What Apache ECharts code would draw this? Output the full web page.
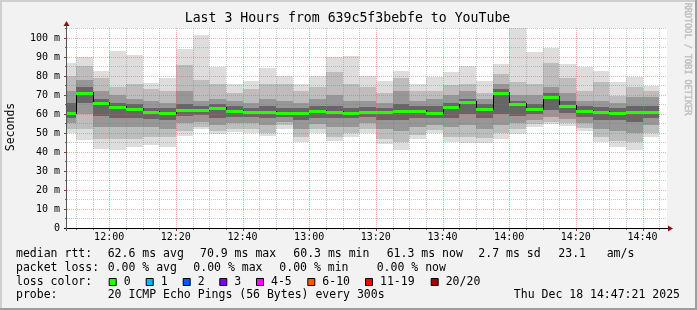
<!DOCTYPE html>
<html><head><meta charset="utf-8">
<script src="https://cdn.jsdelivr.net/npm/echarts@6/dist/echarts.min.js"></script>
<style>html,body{margin:0;padding:0;background:#f2f2f2}#c{width:697px;height:310px}</style>
</head><body><div id="c"></div>
<script>
// ---- data ----
const binStart = ['11:45','11:50','11:55','12:00','12:05','12:10','12:15','12:20','12:25','12:30','12:35','12:40',
  '12:45','12:50','12:55','13:00','13:05','13:10','13:15','13:20','13:25','13:30','13:35','13:40',
  '13:45','13:50','13:55','14:00','14:05','14:10','14:15','14:20','14:25','14:30','14:35','14:40'];
const minRtt = [50.0,46.5,41.7,41.2,42.6,43.9,42.4,48.2,52.0,49.6,50.3,50.0,48.5,52.0,45.1,50.0,45.6,47.9,
  50.2,44.2,40.8,47.0,50.0,45.2,44.5,44.8,47.0,49.5,53.0,54.5,53.6,50.9,45.1,42.4,41.2,47.9];
const low1 = [52,52,47,47,47,48,48,51,53,51,52,52,50,54,48,52,48,50,52,47,45,49,51.5,48,48,47.5,50,52,54.5,56,55,52.5,48,46,45,50];
const low2 = [55,60,53,53,53,53,52,55,56,54,55,55,54,56,52,54.5,53,53,55,52,51,53,54,53,54,52,54,55,57,58.5,57.5,55,52,51,50,54];
const low3 = [58,66,59,58,58,57.5,57,59,59.5,58,58.5,58.5,58,58.5,57,58,58,58,58.5,57,57,58,58,58,60,58,60,59,60,62,60.5,58.5,57,57,56,58];
const medianRtt = [60.7,70.9,65.6,63.8,62.8,61.0,60.5,62.1,62.1,62.9,61.7,60.9,61.2,60.7,60.3,61.7,61.2,60.5,
  61.0,61.0,61.7,61.5,60.7,63.8,66.1,62.6,70.8,65.3,62.4,68.9,64.4,61.4,61.0,60.5,60.9,61.3];
const high3 = [66,74,68,66,65.5,63,63,65,64,65,64,63,64,63,63,64,64,63,63.5,63,65,64,64,66,68,65,73,67,65,71,67,64,63.5,63,64,64];
const high2 = [72,78,72,70,68,67,66,72,67,68,67,66,68,67,66,68,70,67,67,66,72,67,68,70,72,68,76,70,70,74,71,67,67,66,69,69];
const high1 = [80,85,79,74,76,73,72,86,78,76,71,73,76,76,72,74,82,76,74,71,79,72,72,75,76,71,81,77,76,87,79,72,77,69.5,74,72];
const maxRtt = [87.0,90.2,82.4,93.0,91.2,76.3,79.0,94.4,101.7,84.5,75.8,77.2,84.2,80.2,75.8,80.2,90.0,90.3,
  79.8,77.2,82.8,75.8,79.3,81.9,85.1,77.5,86.5,106.0,92.4,94.7,86.3,84.5,82.4,76.6,79.5,74.5];
const xMajorTicks = ['12:00','12:20','12:40','13:00','13:20','13:40','14:00','14:20','14:40'];
const yMajorTicks = [0,10,20,30,40,50,60,70,80,90,100];
const yMinorTicks = [5,15,25,35,45,55,65,75,85,95,105];
const rangeStart = '11:47:21', rangeEnd = '14:47:21';
const yTop = 105.26;
const binMinutes = 5;

function toMin(s){ const p=s.split(':').map(Number); return p[0]*60+p[1]+(p[2]||0)/60; }
function fmtMin(v){ const h=Math.floor(v/60), m=Math.round(v-h*60); return (h<10?'0':'')+h+':'+(m<10?'0':'')+m; }

const xMin = toMin(rangeStart), xMax = toMin(rangeEnd);
const MONO = 'DejaVu Sans Mono';
const SMOKE = ['#dddddd','#bdbdbd','#979797','#666666'];
const MAJ = 'rgba(235,90,90,0.5)', MIN = 'rgba(120,120,120,0.4)';

const smokeData = binStart.map((s,i)=>[toMin(s), minRtt[i], low1[i], low2[i], low3[i], high3[i], high2[i], high1[i], maxRtt[i]]);
const medData = binStart.map((s,i)=>[toMin(s), medianRtt[i], i>0?medianRtt[i-1]:'-']);
const majorSet = new Set(xMajorTicks.map(toMin));
const gridData = [];
binStart.map(toMin).forEach(t=>{ if(t>xMin && !majorSet.has(t)) gridData.push([0,t]); });
const lastEdge = toMin(binStart[binStart.length-1])+binMinutes;
if (lastEdge < xMax && !majorSet.has(lastEdge)) gridData.push([0,lastEdge]);
xMajorTicks.forEach(s=>gridData.push([1,toMin(s)]));
yMinorTicks.forEach(v=>gridData.push([2,v]));
yMajorTicks.forEach(v=>{ if(v>0) gridData.push([3,v]); });
gridData.push([4,0]);

function smokeItem(params, api){
  const t = api.value(0), cs = params.coordSys;
  const bands = [[1,8],[2,7],[3,6],[4,5]];
  const children = [];
  bands.forEach((b,k)=>{
    const p0 = api.coord([t, api.value(b[1])]);
    const p1 = api.coord([t+binMinutes, api.value(b[0])]);
    const x0=Math.round(p0[0]), x1=Math.round(p1[0]), y0=Math.round(p0[1]), y1=Math.round(p1[1]);
    const r = echarts.graphic.clipRectByRect({x:x0,y:y0,width:x1-x0,height:y1-y0},{x:cs.x,y:cs.y,width:cs.width,height:cs.height});
    if (r) children.push({type:'rect', shape:r, style:{fill:SMOKE[k]}});
  });
  return {type:'group', children};
}
function medianItem(params, api){
  const t=api.value(0), m=api.value(1), pm=api.value(2), cs=params.coordSys;
  const a=api.coord([t,m]), b=api.coord([t+binMinutes,m]);
  const x0=Math.max(Math.round(a[0]), cs.x), x1=Math.round(b[0]), y=Math.round(a[1]);
  const ch=[];
  if (!isNaN(pm)) {
    const py=Math.round(api.coord([t,pm])[1]);
    ch.push({type:'line', shape:{x1:x0+0.5,y1:Math.min(py,y)-1,x2:x0+0.5,y2:Math.max(py,y)+1}, style:{stroke:'#000',lineWidth:1}});
  }
  ch.push({type:'rect', shape:{x:x0,y:y-1,width:x1-x0,height:3}, style:{fill:'#26ff00'}});
  return {type:'group', children:ch};
}
function gridItem(params, api){
  const k=api.value(0), v=api.value(1), cs=params.coordSys;
  const yb = cs.y+cs.height;
  if (k===0 || k===1){
    const x=Math.round(api.coord([v,0])[0])+0.5;
    return {type:'group', children:[
      {type:'line', shape:{x1:x,y1:cs.y,x2:x,y2:yb}, style:{stroke:k?MAJ:MIN,lineWidth:1,lineDash:[1,1]}},
      {type:'line', shape:{x1:x,y1:yb,x2:x,y2:yb+(k?3:2)}, style:{stroke:k?'#a03030':'#666',lineWidth:1}}
    ]};
  }
  if (k===2 || k===3){
    const y=Math.round(api.coord([xMin,v])[1])+0.5;
    return {type:'group', children:[
      {type:'line', shape:{x1:cs.x,y1:y,x2:cs.x+cs.width,y2:y}, style:{stroke:k===3?MAJ:MIN,lineWidth:1,lineDash:[1,1]}},
      {type:'line', shape:{x1:cs.x-(k===3?3:2),y1:y,x2:cs.x,y2:y}, style:{stroke:k===3?'#a03030':'#666',lineWidth:1}}
    ]};
  }
  const R=cs.x+cs.width;
  return {type:'group', children:[
    {type:'line', shape:{x1:cs.x-3,y1:yb+0.5,x2:R+2,y2:yb+0.5}, style:{stroke:'#000',lineWidth:1}},
    {type:'line', shape:{x1:cs.x-0.5,y1:cs.y-3,x2:cs.x-0.5,y2:yb+3}, style:{stroke:'#555',lineWidth:1}},
    {type:'polygon', shape:{points:[[R+1,yb-2.5],[R+6,yb+0.5],[R+1,yb+3.5]]}, style:{fill:'#901010'}},
    {type:'polygon', shape:{points:[[cs.x-3.5,cs.y-2],[cs.x-0.5,cs.y-7],[cs.x+2.5,cs.y-2]]}, style:{fill:'#901010'}}
  ]};
}

const legendText = [
  [16,254,'median rtt:'],[107.7,254,'62.6 ms avg'],[200,254,'70.9 ms max'],[293.3,254,'60.3 ms min'],
  [386.7,254,'61.3 ms now'],[478.3,254,'2.7 ms sd'],[558.3,254,'23.1'],[606.7,254,'am/s'],
  [16,268,'packet loss:'],[107.7,268,'0.00 % avg'],[193.3,268,'0.00 % max'],[279.3,268,'0.00 % min'],[376.7,268,'0.00 % now'],
  [16,282,'loss color:'],
  [16,295.5,'probe:'],[107.7,295.5,'20 ICMP Echo Pings (56 Bytes) every 300s']
];
const lossColors = [[108.7,'#26ff00','0'],[145.7,'#00b8ff','1'],[182.7,'#0059ff','2'],[219.3,'#7e00ff','3'],
  [256,'#ff00ff','4-5'],[307.3,'#ff5500','6-10'],[365,'#ff0000','11-19'],[430.7,'#a10000','20/20']];

const graphics = [
  {type:'rect', shape:{x:0,y:0,width:697,height:2}, style:{fill:'#cfcfcf'}, silent:true},
  {type:'rect', shape:{x:0,y:0,width:2,height:310}, style:{fill:'#cfcfcf'}, silent:true},
  {type:'rect', shape:{x:0,y:308,width:697,height:2}, style:{fill:'#9e9e9e'}, silent:true},
  {type:'rect', shape:{x:695,y:0,width:2,height:310}, style:{fill:'#9e9e9e'}, silent:true},
  {type:'text', x:347.5, y:19, style:{text:'Last 3 Hours from 639c5f3bebfe to YouTube', font:'13.2px "'+MONO+'"', fill:'#000', align:'center', verticalAlign:'middle'}},
  {type:'text', x:11, y:127, rotation:Math.PI/2, style:{text:'Seconds', font:'11.5px "'+MONO+'"', fill:'#000', align:'center', verticalAlign:'middle'}},
  {type:'text', x:687.5, y:59, rotation:-Math.PI/2, style:{text:'RRDTOOL / TOBI OETIKER', font:'8.5px "'+MONO+'"', fill:'#c4c4c4', stroke:'#a4a4a4', lineWidth:0.35, align:'center', verticalAlign:'middle'}},
  {type:'text', x:680, y:295.5, style:{text:'Thu Dec 18 14:47:21 2025', font:'11.5px "'+MONO+'"', fill:'#000', align:'right', verticalAlign:'middle'}}
];
legendText.forEach(l=>graphics.push({type:'text', x:l[0], y:l[1], style:{text:l[2], font:'11.5px "'+MONO+'"', fill:'#000', align:'left', verticalAlign:'middle'}}));
lossColors.forEach(c=>{
  graphics.push({type:'rect', shape:{x:c[0]+0.5,y:278.5,width:7,height:7}, style:{fill:c[1], stroke:'#000', lineWidth:1}});
  graphics.push({type:'text', x:c[0]+15, y:282, style:{text:c[2], font:'11.5px "'+MONO+'"', fill:'#000', align:'left', verticalAlign:'middle'}});
});

const chart = echarts.init(document.getElementById('c'), null, {renderer:'canvas'});
chart.setOption({
  animation:false,
  backgroundColor:'#f2f2f2',
  grid:{left:67, top:28, width:600, height:200, show:true, backgroundColor:'#ffffff', borderWidth:0},
  xAxis:{type:'value', min:xMin, max:xMax,
    axisLine:{show:false}, axisTick:{show:false}, splitLine:{show:false},
    axisLabel:{customValues:xMajorTicks.map(toMin), formatter:v=>fmtMin(v), margin:4, fontFamily:MONO, fontSize:10, color:'#000'}},
  yAxis:{type:'value', min:0, max:yTop,
    axisLine:{show:false}, axisTick:{show:false}, splitLine:{show:false},
    axisLabel:{customValues:yMajorTicks, formatter:v=>v===0?'0':v+' m', margin:7, fontFamily:MONO, fontSize:10, color:'#000'}},
  graphic:graphics,
  series:[
    {type:'custom', z:2, renderItem:smokeItem, data:smokeData, encode:{x:0,y:[1,8]}, silent:true},
    {type:'custom', z:3, renderItem:gridItem, data:gridData, silent:true, encode:{x:1}},
    {type:'custom', z:4, renderItem:medianItem, data:medData, encode:{x:0,y:1}, silent:true}
  ]
});
</script></body></html>
